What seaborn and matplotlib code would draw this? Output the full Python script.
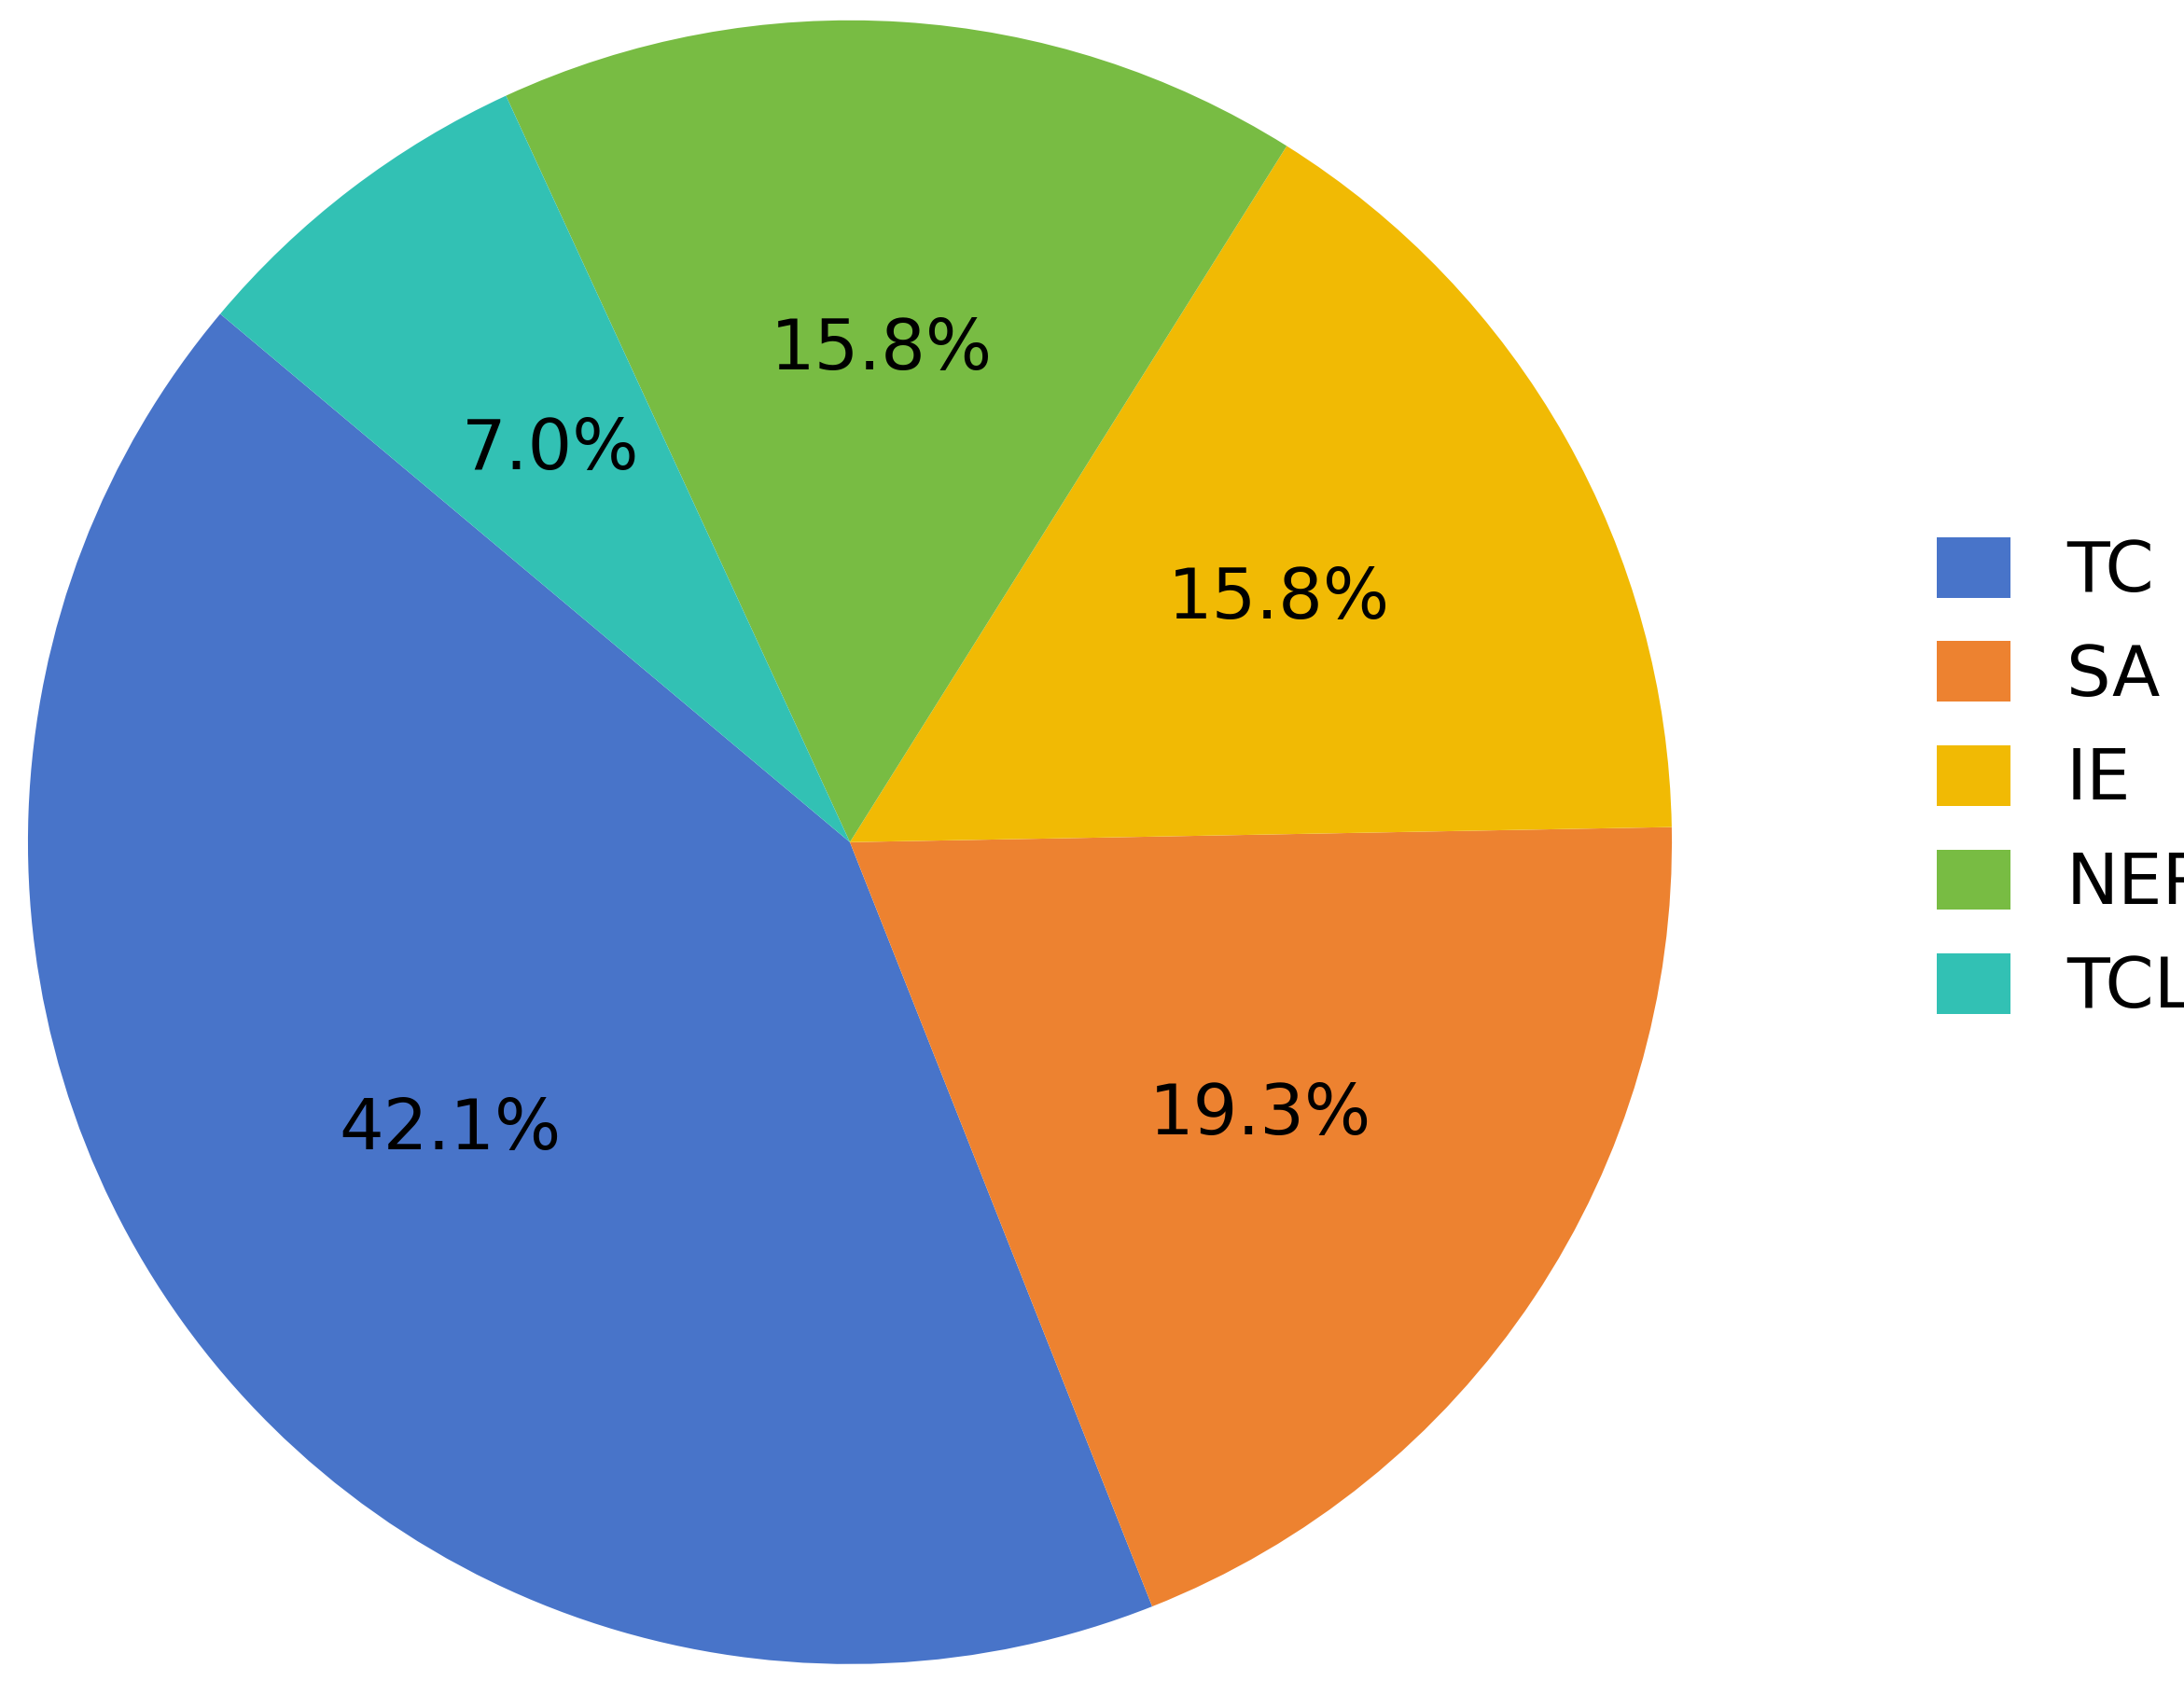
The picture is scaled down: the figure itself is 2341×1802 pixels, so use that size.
import matplotlib
matplotlib.use("Agg")
import matplotlib.pyplot as plt
import seaborn as sns

sns.set_theme(style="white")
plt.rcParams['font.family'] = ['DejaVu Sans']

labels = ["TC", "SA", "IE", "NER", "TCL"]
counts = [24, 11, 9, 9, 4]
colors = ["#4874C9", "#ED8230", "#F1BA04", "#78BC43", "#32C1B4"]

fig = plt.figure(figsize=(11.705, 9.01), dpi=200)
ax = fig.add_axes([0.0128, 0.01, 0.7527, 0.978])
wedges, texts, autotexts = ax.pie(counts, colors=colors, startangle=140,
                                  autopct="%1.1f%%", pctdistance=0.6,
                                  wedgeprops={"linewidth": 0},
                                  textprops={"fontsize": 27, "color": "black"})
ax.set_xlim(-1, 1)
ax.set_ylim(-1, 1)
ax.set_aspect("equal")
leg = fig.legend(wedges, labels, loc="center left", bbox_to_anchor=(0.858, 0.536),
                 frameon=False, fontsize=27, handlelength=1.05, handleheight=0.95,
                 labelspacing=0.5, handletextpad=0.8)
for t in leg.get_texts():
    t.set_color("black")
fig.savefig("out.png", dpi=200)
